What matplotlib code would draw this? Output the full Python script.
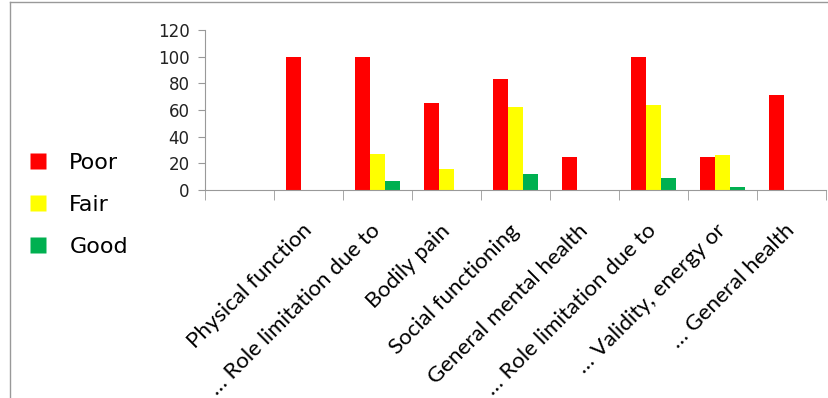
import numpy as np
import matplotlib.pyplot as plt
from matplotlib.lines import Line2D

categories = ["", "Physical function", "… Role limitation due to", "Bodily pain",
              "Social functioning", "General mental health", "… Role limitation due to",
              "… Validity, energy or", "… General health"]
poor = [0, 100, 100, 65, 83, 25, 100, 25, 71]
fair = [0, 0, 27, 16, 62, 0, 64, 26, 0]
good = [0, 0, 7, 0, 12, 0, 9, 2, 0]

series = [("Poor", poor, "#FF0000"), ("Fair", fair, "#FFFF00"), ("Good", good, "#00B050")]

fig = plt.figure(figsize=(8.29, 3.98), dpi=100)
ax = fig.add_axes([205 / 829, 1 - 190 / 398, 621 / 829, 160 / 398])

x = np.arange(len(categories))
w = 0.22
for i, (name, vals, col) in enumerate(series):
    ax.bar(x + (i - 1) * w, vals, w, color=col, label=name, edgecolor="none")

ax.set_xlim(-0.5, len(categories) - 0.5)
ax.set_ylim(0, 120)
ax.set_yticks(range(0, 121, 20))
ax.tick_params(axis="y", labelsize=12, colors="#222222", length=5, color="#999999", pad=6)

ax.set_xticks(x)
ax.set_xticklabels(categories, rotation=45, ha="right", va="center",
                   rotation_mode="anchor", fontsize=16, family="Lato")
ax.tick_params(axis="x", length=0, pad=27)
ax.set_xticks(np.arange(-0.5, len(categories)), minor=True)
ax.tick_params(axis="x", which="minor", length=7, color="#999999")

for s in ["top", "right"]:
    ax.spines[s].set_visible(False)
for s in ["left", "bottom"]:
    ax.spines[s].set_color("#999999")

handles = [Line2D([], [], marker="s", linestyle="none", markersize=12,
                  markerfacecolor=c, markeredgecolor="none") for _, _, c in series]
fig.legend(handles, [n for n, _, _ in series], loc="center left",
           bbox_to_anchor=(-4 / 829, 1 - 205 / 398), frameon=False,
           fontsize=16, labelspacing=1.0, handletextpad=0.4)

fig.add_artist(Line2D([10 / 829, 10 / 829], [0, 1 - 2 / 398], color="#999999", lw=1))
fig.add_artist(Line2D([10 / 829, 1], [1 - 2 / 398, 1 - 2 / 398], color="#999999", lw=1))

fig.savefig("out.png", dpi=100)
